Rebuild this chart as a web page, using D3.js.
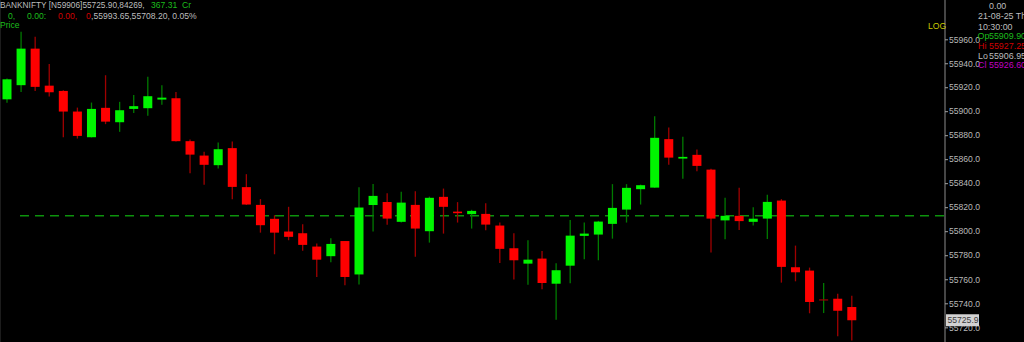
<!DOCTYPE html>
<html>
<head>
<meta charset="utf-8">
<script src="https://cdn.jsdelivr.net/npm/d3@7"></script>
<style>
html,body{margin:0;padding:0;background:#000;overflow:hidden;}
svg{display:block;}
text{font-family:"Liberation Sans",Arial,sans-serif;font-size:8.6px;}
</style>
</head>
<body>
<svg id="chart" width="1024" height="342"></svg>
<script>
const times = ["10:30","10:35","10:40","10:45","10:50","10:55","11:00","11:05","11:10","11:15","11:20","11:25","11:30","11:35","11:40","11:45","11:50","11:55","12:00","12:05","12:10","12:15","12:20","12:25","12:30","12:35","12:40","12:45","12:50","12:55","13:00","13:05","13:10","13:15","13:20","13:25","13:30","13:35","13:40","13:45","13:50","13:55","14:00","14:05","14:10","14:15","14:20","14:25","14:30","14:35","14:40","14:45","14:50","14:55","15:00","15:05","15:10","15:15","15:20","15:25","15:30"];
const opens  = [55909.9,55921.7,55952.2,55921.3,55916.9,55899.7,55878.3,55902.8,55890.8,55901.9,55902.5,55909.7,55910.8,55875.0,55863.0,55855.0,55869.2,55836.7,55821.9,55810.3,55799.7,55798.3,55787.2,55779.2,55791.8,55764.0,55821.8,55824.3,55807.8,55821.9,55800.0,55828.6,55816.3,55814.2,55814.4,55804.7,55785.8,55773.0,55777.2,55756.3,55771.3,55796.1,55797.2,55806.1,55818.0,55835.0,55836.3,55876.7,55860.5,55863.6,55851.3,55809.0,55812.8,55807.8,55810.5,55825.5,55770.0,55767.2,55743.3,55743.8,55736.9];
const highs  = [55927.25,55966.3,55962.2,55939.4,55917.5,55903.0,55907.2,55930.0,55907.8,55913.6,55928.8,55921.7,55916.1,55876.3,55866.1,55873.8,55874.7,55847.5,55826.7,55813.3,55820.3,55805.8,55789.7,55794.2,55791.9,55836.7,55839.4,55831.7,55832.8,55833.3,55828.8,55835.5,55824.2,55817.8,55823.3,55807.2,55798.3,55792.5,55783.6,55773.3,55809.4,55807.2,55808.6,55839.2,55839.2,55838.8,55895.8,55886.3,55878.6,55868.0,55852.0,55827.8,55836.1,55820.0,55830.3,55826.7,55788.0,55769.7,55756.9,55748.0,55746.3];
const lows   = [55906.95,55916.1,55916.9,55912.2,55878.3,55877.2,55878.1,55889.2,55882.8,55898.6,55896.3,55905.3,55874.8,55848.3,55838.6,55852.3,55826.7,55821.9,55798.8,55780.8,55792.5,55783.8,55761.9,55774.2,55755.1,55755.7,55799.7,55805.4,55807.3,55778.8,55790.5,55798.0,55807.2,55802.2,55800.8,55773.6,55759.7,55755.5,55751.7,55726.3,55756.7,55776.7,55775.8,55793.8,55807.2,55822.2,55836.1,55855.3,55843.6,55850.0,55782.2,55793.2,55801.1,55804.8,55793.6,55757.2,55758.3,55731.7,55731.9,55712.5,55709.0];
const closes = [55926.6,55952.2,55920.3,55915.8,55899.7,55879.4,55901.9,55891.3,55900.8,55904.2,55912.5,55911.3,55875.0,55863.8,55855.3,55868.3,55836.9,55822.2,55805.0,55798.8,55795.3,55788.6,55776.3,55789.4,55761.9,55819.7,55829.4,55810.5,55823.8,55802.2,55827.8,55820.3,55815.0,55816.9,55805.5,55785.3,55775.8,55776.3,55756.9,55767.5,55796.3,55798.0,55808.0,55819.4,55836.1,55838.3,55877.8,55861.3,55861.9,55854.4,55810.5,55812.8,55808.4,55810.4,55824.4,55770.3,55765.8,55741.1,55743.3,55733.8,55725.9];
const tickValues = [55960,55940,55920,55900,55880,55860,55840,55820,55800,55780,55760,55740,55720];
const refLevel = 55812.8;
const lastPrice = 55725.9;

const svg = d3.select("#chart");
const W = 1024, H = 342, axisX = 945;

svg.append("rect").attr("width",W).attr("height",H).attr("fill","#000");
svg.append("line").attr("x1",0.5).attr("x2",0.5).attr("y1",0).attr("y2",H).attr("stroke","#1c1c1c");

const x = d3.scalePoint().domain(times).range([7, 851.8]);
const y = d3.scaleLog().domain([55740, 55960]).range([303.3, 39.3]);

// reference dashed line
svg.append("line")
  .attr("x1",20).attr("x2",axisX).attr("y1",y(refLevel)).attr("y2",y(refLevel))
  .attr("stroke","#0c920c").attr("stroke-width",1.6).attr("stroke-dasharray","9,6");

const data = times.map((t,i)=>({t,o:opens[i],h:highs[i],l:lows[i],c:closes[i]}));
const g = svg.append("g");
const bw = 9;
const candle = g.selectAll("g.c").data(data).join("g").attr("class","c");
candle.append("line")
  .attr("x1",d=>x(d.t)).attr("x2",d=>x(d.t))
  .attr("y1",d=>y(d.h)).attr("y2",d=>y(d.l))
  .attr("stroke",d=>d.c>=d.o?"#007a00":"#a00000").attr("stroke-width",1.3);
candle.append("rect")
  .attr("x",d=>x(d.t)-bw/2).attr("width",bw)
  .attr("y",d=>Math.min(y(d.o),y(d.c)))
  .attr("height",d=>Math.max(1.2,Math.abs(y(d.o)-y(d.c))))
  .attr("fill",d=>Math.abs(d.o-d.c)<0.05?"#a00000":(d.c>=d.o?"#00f500":"#ff0000"));

// right axis
svg.append("line").attr("x1",axisX).attr("x2",axisX).attr("y1",0).attr("y2",H).attr("stroke","#8c8c8c").attr("stroke-width",1);
const axis = d3.axisRight(y).tickValues(tickValues).tickFormat(d3.format(".1f")).tickSize(3).tickPadding(1);
const ag = svg.append("g").attr("transform",`translate(${axisX},0)`).call(axis);
ag.select(".domain").remove();
ag.selectAll(".tick line").attr("stroke","#a0a0a0");
ag.selectAll(".tick text").attr("fill","#b8b8b8").style("font-family","Liberation Sans, Arial, sans-serif").style("font-size","8.6px");

// last price box
const ly = y(lastPrice);
svg.append("rect").attr("x",946).attr("y",ly-6).attr("width",33).attr("height",12).attr("fill","#d2d2d2");
svg.append("text").attr("x",947.5).attr("y",ly+3.2).attr("fill","#3a3a3a").text(d3.format(".1f")(lastPrice));

// header texts
const gray="#bdbdbd", grn="#1cbc1c", red="#d00000";
function T(xp,yp,s,c,fs){const t=svg.append("text").attr("x",xp).attr("y",yp).attr("fill",c).text(s); if(fs) t.style("font-size",fs+"px"); return t;}
T(0,7.8,"BANKNIFTY [N59906]55725.90,84269,",gray,8.3);
T(151,7.8,"367.31",grn);
T(182,7.8,"Cr",grn);
T(8,18.5,"0,",grn);
T(27,18.5,"0.00:",grn);
T(58,18.5,"0.00,",red);
T(86,18.5,"0",red);
T(91,18.5,",55993.65,55708.20, 0.05%",gray);
T(0,28,"Price",grn);
T(928,29,"LOG","#c8c800");

// info panel
T(989,9,"0.00",gray,8.9);
T(978,19.3,"21-08-25 Th",gray,8.9);
T(978,30,"10:30:00",gray,8.9);
T(977.5,39.3,"Op",grn,8.9); T(989,39.3,"55909.90",grn,8.9);
T(978,48.7,"Hi",red,8.9); T(989,48.7,"55927.25",red,8.9);
T(978,58.7,"Lo",gray,8.9); T(989,58.7,"55906.95",gray,8.9);
T(978,68,"Cl","#c000c0",8.9); T(989,68,"55926.60","#c000c0",8.9);
</script>
</body>
</html>
